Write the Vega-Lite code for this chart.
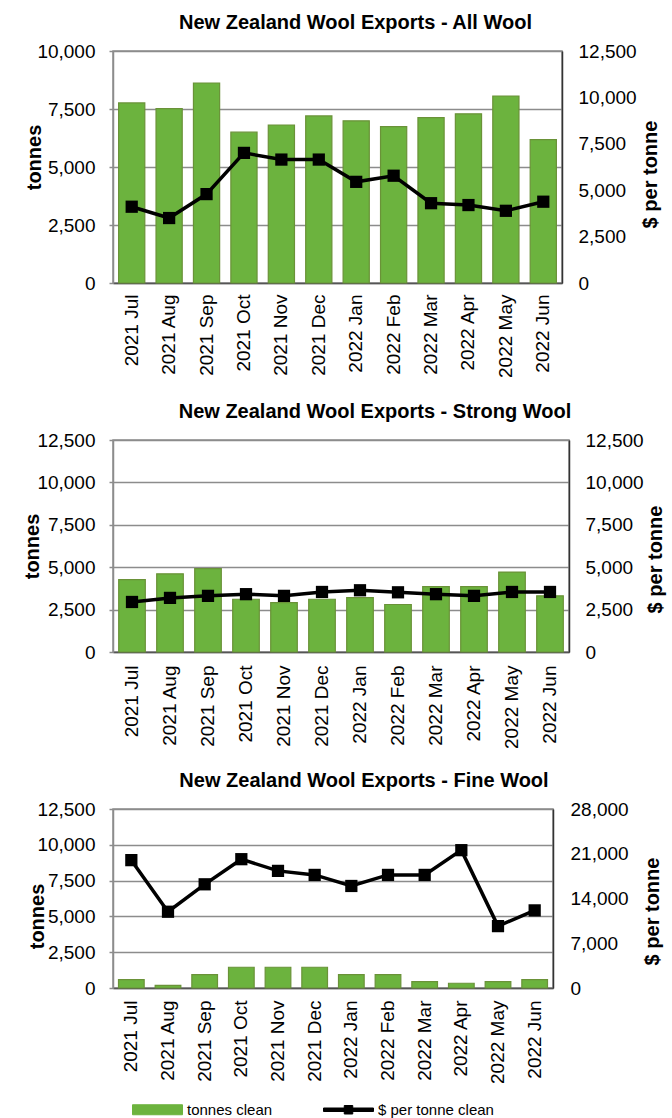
{
  "$schema": "https://vega.github.io/schema/vega-lite/v6.json",
  "padding": {"left": 21, "top": 12, "right": 5, "bottom": 0},
  "datasets": {
    "wool": [
      {"month": "2021 Jul", "all_t": 7760, "all_p": 4110, "strong_t": 4270, "strong_p": 2950, "fine_t": 580, "fine_p": 20000},
      {"month": "2021 Aug", "all_t": 7520, "all_p": 3500, "strong_t": 4610, "strong_p": 3190, "fine_t": 190, "fine_p": 11930},
      {"month": "2021 Sep", "all_t": 8620, "all_p": 4790, "strong_t": 4920, "strong_p": 3310, "fine_t": 940, "fine_p": 16220},
      {"month": "2021 Oct", "all_t": 6500, "all_p": 7010, "strong_t": 3110, "strong_p": 3410, "fine_t": 1450, "fine_p": 20150},
      {"month": "2021 Nov", "all_t": 6810, "all_p": 6650, "strong_t": 2910, "strong_p": 3310, "fine_t": 1450, "fine_p": 18320},
      {"month": "2021 Dec", "all_t": 7200, "all_p": 6650, "strong_t": 3110, "strong_p": 3540, "fine_t": 1450, "fine_p": 17690},
      {"month": "2022 Jan", "all_t": 6990, "all_p": 5450, "strong_t": 3210, "strong_p": 3640, "fine_t": 940, "fine_p": 15960},
      {"month": "2022 Feb", "all_t": 6740, "all_p": 5780, "strong_t": 2800, "strong_p": 3520, "fine_t": 940, "fine_p": 17690},
      {"month": "2022 Mar", "all_t": 7130, "all_p": 4300, "strong_t": 3860, "strong_p": 3410, "fine_t": 440, "fine_p": 17690},
      {"month": "2022 Apr", "all_t": 7290, "all_p": 4200, "strong_t": 3860, "strong_p": 3310, "fine_t": 330, "fine_p": 21560},
      {"month": "2022 May", "all_t": 8060, "all_p": 3890, "strong_t": 4710, "strong_p": 3540, "fine_t": 440, "fine_p": 9680},
      {"month": "2022 Jun", "all_t": 6180, "all_p": 4380, "strong_t": 3310, "strong_p": 3540, "fine_t": 580, "fine_p": 12140}
    ]
  },
  "data": {"name": "wool"},
  "bounds": "flush",
  "spacing": 157,
  "vconcat": [
    {
      "width": 449,
      "height": 232,
      "title": {"text": "New Zealand Wool Exports - All Wool", "dx": 18},
      "layer": [
        {
          "mark": {"type": "bar", "stroke": "#6A9238", "strokeWidth": 1.2},
          "encoding": {
            "x": {"field": "month", "type": "ordinal", "sort": null, "scale": {"paddingInner": 0.3, "paddingOuter": 0.15}, "axis": {"title": null, "labelAngle": 270, "labelPadding": 11, "ticks": false}},
            "y": {"field": "all_t", "type": "quantitative", "scale": {"domain": [0, 10000]}, "axis": {"title": "tonnes", "values": [0, 2500, 5000, 7500, 10000], "format": ",d", "tickSize": 4, "labelPadding": 14, "grid": true, "titleX": -79, "titleY": 106, "titleAngle": 270, "titleBaseline": "middle", "titleAlign": "center", "domainColor": "#8c8c8c"}},
            "color": {"datum": "tonnes clean", "type": "nominal", "scale": {"domain": ["tonnes clean", "$ per tonne clean"], "range": ["#6CB33E", "#000000"]}, "legend": {"title": null, "orient": "none", "legendX": 37, "legendY": 1051, "padding": 0, "direction": "horizontal", "symbolSize": 100, "labelFontSize": 15, "labelOffset": 22, "columnPadding": 48, "symbolType": {"expr": "datum.value == 'tonnes clean' ? 'M-5,-1H5V1H-5Z' : 'M-5,-0.35H5V0.35H-5Z M-0.85,-0.85H0.85V0.85H-0.85Z'"}, "symbolStrokeColor": {"expr": "datum.value == 'tonnes clean' ? '#6A9238' : '#000000'"}, "symbolFillColor": {"expr": "datum.value == 'tonnes clean' ? '#6CB33E' : '#000000'"}, "symbolStrokeWidth": 1, "symbolOpacity": 1}
            }
          }
        },
        {
          "mark": {"type": "line", "strokeWidth": 3.5, "point": {"shape": "square", "size": 150, "filled": true}},
          "encoding": {
            "x": {"field": "month", "type": "ordinal", "sort": null},
            "y": {"field": "all_p", "type": "quantitative", "scale": {"domain": [0, 12500]}, "axis": {"orient": "right", "title": "$ per tonne", "values": [0, 2500, 5000, 7500, 10000, 12500], "format": ",d", "ticks": false, "labelPadding": 16, "grid": false, "titleX": 88, "titleY": 123, "titleAngle": 270, "titleBaseline": "middle", "titleAlign": "center", "domainColor": "#333333"}},
            "color": {"datum": "$ per tonne clean", "type": "nominal"}
          }
        }
      ],
      "resolve": {"scale": {"y": "independent"}}
    },
    {
      "width": 456,
      "height": 212,
      "title": {"text": "New Zealand Wool Exports - Strong Wool", "dx": 34},
      "layer": [
        {
          "mark": {"type": "bar", "stroke": "#6A9238", "strokeWidth": 1.2},
          "encoding": {
            "x": {"field": "month", "type": "ordinal", "sort": null, "scale": {"paddingInner": 0.3, "paddingOuter": 0.15}, "axis": {"title": null, "labelAngle": 270, "labelPadding": 13, "ticks": false}},
            "y": {"field": "strong_t", "type": "quantitative", "scale": {"domain": [0, 12500]}, "axis": {"title": "tonnes", "values": [0, 2500, 5000, 7500, 10000, 12500], "format": ",d", "tickSize": 4, "labelPadding": 14, "grid": true, "titleX": -81, "titleY": 106, "titleAngle": 270, "titleBaseline": "middle", "titleAlign": "center", "domainColor": "#8c8c8c"}},
            "color": {"datum": "tonnes clean", "type": "nominal"}
          }
        },
        {
          "mark": {"type": "line", "strokeWidth": 3.5, "point": {"shape": "square", "size": 150, "filled": true}},
          "encoding": {
            "x": {"field": "month", "type": "ordinal", "sort": null},
            "y": {"field": "strong_p", "type": "quantitative", "scale": {"domain": [0, 12500]}, "axis": {"orient": "right", "title": "$ per tonne", "values": [0, 2500, 5000, 7500, 10000, 12500], "format": ",d", "ticks": false, "labelPadding": 16, "grid": false, "titleX": 86, "titleY": 119, "titleAngle": 270, "titleBaseline": "middle", "titleAlign": "center", "domainColor": "#333333"}},
            "color": {"datum": "$ per tonne clean", "type": "nominal"}
          }
        }
      ],
      "resolve": {"scale": {"y": "independent"}}
    },
    {
      "width": 440,
      "height": 179,
      "title": {"text": "New Zealand Wool Exports - Fine Wool", "dx": 31},
      "layer": [
        {
          "mark": {"type": "bar", "stroke": "#6A9238", "strokeWidth": 1.2},
          "encoding": {
            "x": {"field": "month", "type": "ordinal", "sort": null, "scale": {"paddingInner": 0.3, "paddingOuter": 0.15}, "axis": {"title": null, "labelAngle": 270, "labelPadding": 12, "ticks": false}},
            "y": {"field": "fine_t", "type": "quantitative", "scale": {"domain": [0, 12500]}, "axis": {"title": "tonnes", "values": [0, 2500, 5000, 7500, 10000, 12500], "format": ",d", "tickSize": 4, "labelPadding": 14, "grid": true, "titleX": -76, "titleY": 107, "titleAngle": 270, "titleBaseline": "middle", "titleAlign": "center", "domainColor": "#8c8c8c"}},
            "color": {"datum": "tonnes clean", "type": "nominal"}
          }
        },
        {
          "mark": {"type": "line", "strokeWidth": 3.5, "point": {"shape": "square", "size": 150, "filled": true}},
          "encoding": {
            "x": {"field": "month", "type": "ordinal", "sort": null},
            "y": {"field": "fine_p", "type": "quantitative", "scale": {"domain": [0, 28000]}, "axis": {"orient": "right", "title": "$ per tonne", "values": [0, 7000, 14000, 21000, 28000], "format": ",d", "ticks": false, "labelPadding": 17, "grid": false, "titleX": 99, "titleY": 102, "titleAngle": 270, "titleBaseline": "middle", "titleAlign": "center", "domainColor": "#333333"}},
            "color": {"datum": "$ per tonne clean", "type": "nominal"}
          }
        }
      ],
      "resolve": {"scale": {"y": "independent"}}
    }
  ],
  "config": {
    "font": "Liberation Sans",
    "view": {"stroke": "#8c8c8c", "strokeWidth": 1.5},
    "axis": {"labelFont": "Liberation Sans", "labelFontSize": 19, "labelColor": "#000000", "titleFont": "Liberation Sans", "titleFontSize": 20, "titleFontWeight": "bold", "titleColor": "#000000", "gridColor": "#8c8c8c", "gridWidth": 1.5, "domainColor": "#555555", "domainWidth": 1.5, "tickColor": "#8c8c8c", "tickWidth": 1.5},
    "title": {"font": "Liberation Sans", "fontSize": 20, "fontWeight": "bold", "color": "#000000", "baseline": "alphabetic", "offset": 9, "anchor": "middle"},
    "legend": {"labelFont": "Liberation Sans", "labelColor": "#000000"}
  }
}
